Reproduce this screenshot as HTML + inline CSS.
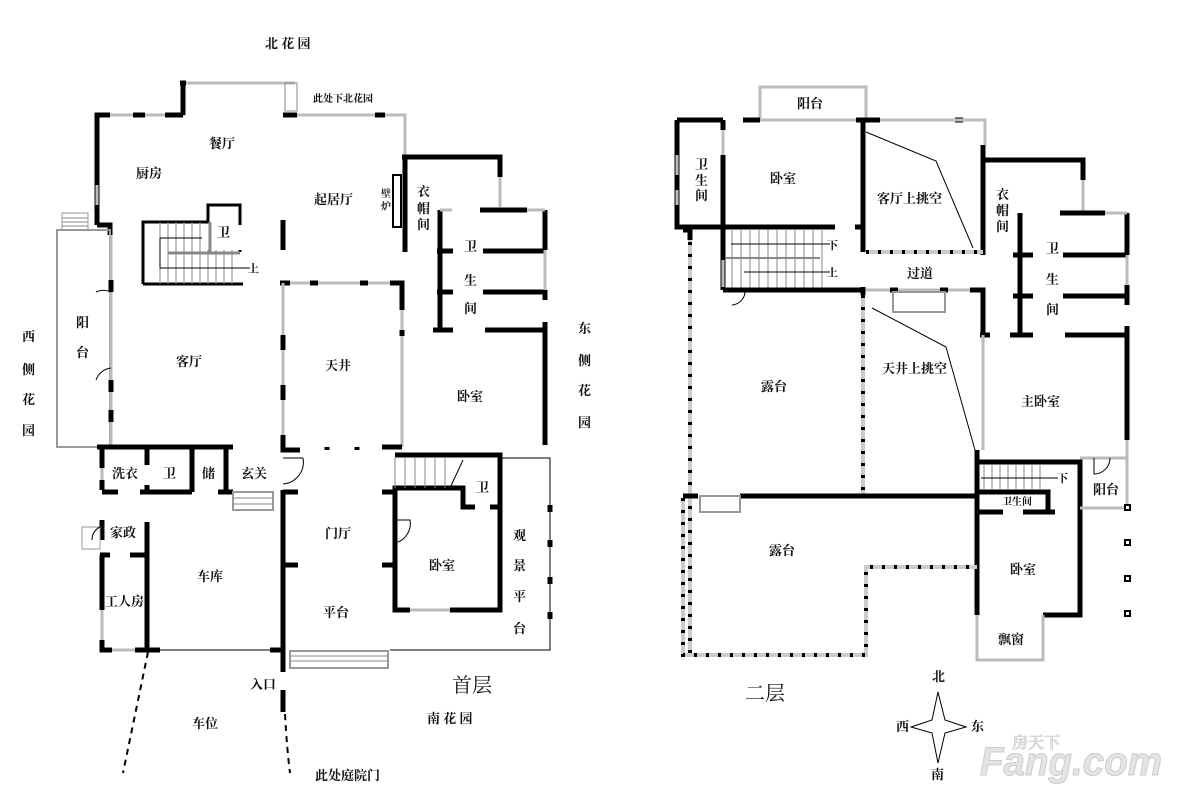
<!DOCTYPE html>
<html><head><meta charset="utf-8">
<style>
html,body{margin:0;padding:0;background:#fff;}
svg{display:block;}
text{font-family:"Liberation Serif","Noto Serif CJK SC","Noto Sans CJK SC",serif;font-size:13px;fill:#111;}
.b{stroke:#000;stroke-width:5;fill:none;}
.m{stroke:#000;stroke-width:3;fill:none;}
.g{stroke:#bbb;stroke-width:3;fill:none;}
.t{stroke:#888;stroke-width:1;fill:none;}
.k{stroke:#000;stroke-width:1;fill:none;}
.d{stroke:#000;stroke-width:2;fill:none;stroke-dasharray:6 5;}
.dg{stroke:#ccc;stroke-width:4;fill:none;}
.dt{stroke:#000;stroke-width:4;fill:none;stroke-dasharray:3 9;}
</style></head><body>
<svg width="1177" height="800" viewBox="0 0 1177 800">
<!-- ===== FLOOR 1 ===== -->
<path class="g" d="M97 115 H183 V83 H295 M295 115 H405 V155"/>
<path class="b" d="M97 225 V115 H110 M133 115 H145 M165 115 H183 M183 83 V115 M180 83 H186 M283 115 H297 M375 115 H385"/>
<rect x="285" y="83" width="12" height="28" fill="none" stroke="#888"/>
<path class="b" d="M97 225 H110 V235"/>
<path class="g" d="M97 185 V205"/>
<rect x="57" y="230" width="53" height="217" fill="none" stroke="#999" stroke-width="2"/>
<rect x="62" y="213" width="26" height="17" fill="none" stroke="#999"/>
<path class="t" d="M62 218H88M62 222H88M62 226H88"/>
<path class="g" d="M111 235 V447"/>
<path class="b" d="M111 280 V292 M111 380 V392 M111 410 V422"/>
<path class="k" d="M111 292 A18 18 0 0 0 96 292 M111 368 A18 18 0 0 0 96 380"/>
<path class="m" d="M143 284 V222 H208 V205 H240 V225 M240 250 V252 M143 284 H243"/>
<path class="t" d="M160 222 V284 M168 222V284 M176 222V284 M184 222V284 M192 222V284 M200 222V284 M208 250V284 M216 250V284 M224 250V284 M232 250V284"/>
<path stroke="#888" stroke-width="3" d="M168 253 H240 M210 222 V252"/>
<path class="k" d="M160 238 H202 M160 238 V268 H250"/>
<path class="b" d="M283 220 V250"/>
<path class="g" d="M283 283 H402 V447"/>
<path class="b" d="M280 283 H290 M310 283 H318 M360 283 H368 M390 283 H402 V310 M402 330 V336"/>
<path class="g" d="M283 283 V447"/>
<path class="b" d="M283 335 V350 M283 385 V400 M283 435 V450 H300 M382 447 H402"/>
<path class="b" d="M327 447 v3 M357 447 v3"/>
<path class="b" d="M405 155 V252 M402 157 H500 V177"/>
<path class="g" d="M500 177 V207"/>
<rect x="393" y="175" width="8" height="52" fill="none" stroke="#000" stroke-width="2"/>
<path class="b" d="M440 210 V330 M437 251 H453 M437 292 H453 M433 330 H453 M480 210 H527 M483 251 H545 M483 292 H545 M485 330 H545 M545 210 V250 M545 290 V300 M545 322 V445"/>
<path class="g" d="M440 210 H452 M527 210 H545 M545 250 V290"/>
<path class="b" d="M97 447 H233 M102 447 V468 M102 480 V490 M102 520 V540 M102 555 V610 M102 640 V650 H112 M102 492 H118 M140 492 H192 M218 492 H233 M147 447 V465 M147 485 V492 M192 447 V492 M226 447 V492 M100 555 H110 M130 555 H147 M147 522 V650 M135 650 H160 M270 650 H283"/>
<path class="g" d="M102 468 V480 M102 610 V640 M112 650 H135"/>
<path class="k" d="M147 650 H270"/>
<rect x="233" y="492" width="40" height="18" fill="none" stroke="#999" stroke-width="2"/>
<path class="t" d="M233 498H273M233 504H273"/>
<rect x="82" y="527" width="18" height="22" fill="none" stroke="#999"/>
<path class="k" d="M100 527 A14 14 0 0 0 92 540"/>
<path class="b" d="M283 490 V672 M283 492 H298 M283 565 H298"/>
<path class="k" d="M283 458 H303 M303 458 A22 22 0 0 1 283 484"/>
<rect x="290" y="651" width="98" height="17" fill="none" stroke="#999" stroke-width="2"/>
<path class="t" d="M290 656H388M290 661H388"/>
<path class="b" d="M283 690 V712"/>
<path class="d" d="M148 652 L123 773 M285 714 Q287 750 290 773"/>
<path class="b" d="M395 455 H500 V610 H450 M410 610 H395 V488 H463 V507 H475 M490 507 H500 M382 492 H395 M382 565 H395"/>
<path class="g" d="M410 610 H450"/>
<path class="t" d="M395 457 V488 M405 457 V488 M415 457V488 M425 457V488 M435 457V488 M445 457V488"/>
<path class="k" d="M463 460 L450 488 M395 520 H410 A20 20 0 0 1 395 543"/>
<path class="k" d="M500 458 H550 V650 H390"/>
<path class="b" d="M550 505 v7 M550 540 v7 M550 577 v7 M550 612 v7"/>
<!-- ===== FLOOR 2 ===== -->
<rect x="760" y="87" width="106" height="33" fill="none" stroke="#bbb" stroke-width="3"/>
<path class="b" d="M677 120 H723 M743 120 H760 M856 120 H880 M955 120 H963 M677 120 V227 H835 M723 120 V130 M723 155 V290 M855 227 H863"/>
<path class="g" d="M677 155 V175 M677 190 V205 M723 130 V155 M760 120 H856 M880 120 H985 V145"/>
<path class="b" d="M863 120 V252 M983 145 V255 M983 160 H1083 V180"/>
<path class="g" d="M1083 180 V212"/>
<path class="dg" d="M866 252 H983"/>
<path class="dt" d="M866 252 H983"/>
<path class="k" d="M866 132 L936 161 L973 248 M872 308 L946 347 L975 450"/>
<path class="b" d="M1020 213 V335 M1013 255 H1033 M1013 296 H1033 M1010 335 H1033 M1060 213 H1105 M1063 255 H1127 M1063 296 H1127 M1065 335 H1127 M1127 213 V255 M1127 285 V305 M1127 326 V440"/>
<path class="g" d="M1105 213 H1127 M1127 255 V285 M1127 440 V460"/>
<path class="t" d="M732 230 V288 M741 230V288 M750 230V288 M759 230V288 M768 230V288 M777 230V288 M786 230V288 M795 230V288 M804 230V288 M813 230V288 M822 230V288"/>
<path stroke="#888" stroke-width="2" d="M725 258 H820"/>
<path class="k" d="M731 244 H830 M744 272 H830"/>
<path class="b" d="M723 290 H863 M863 287 V295"/>
<path class="g" d="M723 260 V287"/>
<path class="k" d="M731 290 H745 A14 14 0 0 1 732 305"/>
<path class="g" d="M866 290 H983"/>
<path class="b" d="M890 290 H898 M940 290 H948 M970 290 H983 V335 M980 335 H990"/>
<rect x="893" y="292" width="52" height="20" fill="none" stroke="#999" stroke-width="2"/>
<path class="g" d="M983 335 V450"/>
<path class="dg" d="M863 295 V495 M690 230 V655"/>
<path class="dt" d="M863 295 V495 M690 230 V655"/>
<path class="b" d="M683 230 H690 V240"/>
<path class="b" d="M977 450 V615 M977 462 H1080 V615 H1043 M683 496 H698 M740 496 H977 M977 492 H1048 V512 M977 512 H1003 M1023 512 H1055"/>
<path class="g" d="M1080 458 H1127 M1080 508 H1127 M1127 458 V508"/>
<rect x="700" y="496" width="40" height="16" fill="none" stroke="#999" stroke-width="2"/>
<path class="t" d="M984 464V490 M992 464V490 M1000 464V490 M1008 464V490 M1016 464V490 M1024 464V490 M1032 464V490 M1040 464V490"/>
<path class="k" d="M981 478 H1058 M1094 458 V474 A16 16 0 0 0 1110 458"/>
<path class="g" d="M977 615 V660 H1043 V615"/>
<path class="dg" d="M683 498 V655 H866 V567 H977"/>
<path class="dt" d="M683 498 V655 H866 V567 H977"/>
<g fill="#fff" stroke="#000" stroke-width="2"><rect x="1125" y="505" width="5" height="5"/><rect x="1125" y="540" width="5" height="5"/><rect x="1125" y="576" width="5" height="5"/><rect x="1125" y="611" width="5" height="5"/></g>
<path d="M938 692 L945 720 L966 727 L945 733 L938 763 L932 733 L911 727 L932 720 Z" fill="#fff" stroke="#000"/>
<text x="980" y="775" textLength="182" lengthAdjust="spacingAndGlyphs" style="font-size:40px;font-weight:bold;fill:#e4e4e4;font-family:'Liberation Sans',sans-serif;font-style:italic;stroke:#ccc;stroke-width:1">Fang.com</text>
<text x="1012" y="748" style="font-size:16px;font-weight:bold;fill:#e4e4e4;stroke:#ccc;stroke-width:0.6">房天下</text>
<g style="font-weight:bold">
<text x="265" y="48">北 花 园</text>
<text x="313" y="102" style="font-size:10px">此处下北花园</text>
<text x="209" y="148">餐厅</text>
<text x="136" y="178">厨房</text>
<text x="314" y="204">起居厅</text>
<text x="381" y="197" style="font-size:10px">壁</text><text x="381" y="210" style="font-size:10px">炉</text>
<text x="417" y="196">衣</text><text x="417" y="213">帽</text><text x="417" y="229">间</text>
<text x="217" y="237">卫</text>
<text x="248" y="272" style="font-size:11px">上</text>
<text x="464" y="251">卫</text><text x="464" y="285">生</text><text x="464" y="313">间</text>
<text x="22" y="341">西</text><text x="22" y="374">侧</text><text x="22" y="404">花</text><text x="22" y="435">园</text>
<text x="76" y="327">阳</text><text x="76" y="357">台</text>
<text x="176" y="366">客厅</text>
<text x="325" y="370">天井</text>
<text x="457" y="401">卧室</text>
<text x="578" y="333">东</text><text x="578" y="365">侧</text><text x="578" y="395">花</text><text x="578" y="427">园</text>
<text x="112" y="478">洗衣</text>
<text x="163" y="478">卫</text>
<text x="202" y="478">储</text>
<text x="241" y="478">玄关</text>
<text x="476" y="492">卫</text>
<text x="110" y="537">家政</text>
<text x="325" y="538">门厅</text>
<text x="429" y="570">卧室</text>
<text x="197" y="581">车库</text>
<text x="513" y="540">观</text><text x="513" y="570">景</text><text x="513" y="601">平</text><text x="513" y="633">台</text>
<text x="105" y="606">工人房</text>
<text x="323" y="617">平台</text>
<text x="250" y="689">入口</text>
<text x="192" y="728">车位</text>
<text x="427" y="723">南 花 园</text>
<text x="315" y="780">此处庭院门</text>
<text x="797" y="108">阳台</text>
<text x="695" y="169">卫</text><text x="695" y="185">生</text><text x="695" y="200">间</text>
<text x="770" y="183">卧室</text>
<text x="877" y="203">客厅上挑空</text>
<text x="996" y="199">衣</text><text x="996" y="215">帽</text><text x="996" y="231">间</text>
<text x="1046" y="253">卫</text><text x="1046" y="284">生</text><text x="1046" y="314">间</text>
<text x="827" y="249" style="font-size:11px">下</text>
<text x="827" y="276" style="font-size:11px">上</text>
<text x="907" y="278">过道</text>
<text x="882" y="373">天井上挑空</text>
<text x="761" y="391">露台</text>
<text x="1021" y="406">主卧室</text>
<text x="1057" y="482" style="font-size:11px">下</text>
<text x="1093" y="494">阳台</text>
<text x="1002" y="505" style="font-size:10px">卫生间</text>
<text x="769" y="555">露台</text>
<text x="1010" y="574">卧室</text>
<text x="998" y="644">飘窗</text>
<text x="932" y="681">北</text>
<text x="896" y="731">西</text>
<text x="971" y="731">东</text>
<text x="931" y="779">南</text>
</g>
<text x="452" y="692" style="font-size:20px">首层</text>
<text x="745" y="700" style="font-size:20px">二层</text>
</svg>
</body></html>
